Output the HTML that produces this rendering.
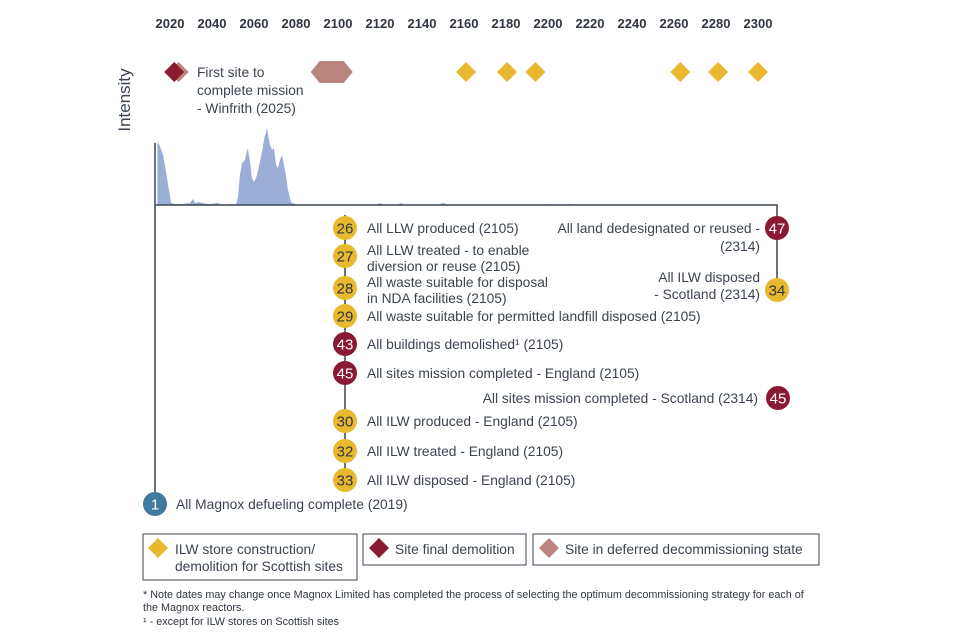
<!DOCTYPE html>
<html><head><meta charset="utf-8"><style>
body{margin:0;background:#fff;}
svg{display:block;font-family:"Liberation Sans",sans-serif;}
.t{font-size:13.8px;fill:#3b4450;}
.yr{font-size:13px;font-weight:bold;fill:#2f3640;}
.n{font-size:15px;fill:#fff;text-anchor:middle;}
.nd{font-size:15px;fill:#2f3640;text-anchor:middle;}
.fn{font-size:10.8px;fill:#2f3640;}
</style></head><body>
<svg id="c" width="960" height="640" viewBox="0 0 960 640">
<g id="axisTop"></g>
<g id="markers"></g>
<text class="t" x="197" y="77">First site to</text>
<text class="t" x="197" y="95">complete mission</text>
<text class="t" x="197" y="113">- Winfrith (2025)</text>
<text class="t" transform="translate(130,100) rotate(-90)" text-anchor="middle" style="font-size:17px">Intensity</text>
<path id="area" fill="#9aaed6"/>
<line x1="155" y1="143" x2="155" y2="505" stroke="#3b4450" stroke-width="1.5"/>
<polyline points="155,205 777,205 777,290" fill="none" stroke="#3b4450" stroke-width="1.5"/>
<line x1="345" y1="215" x2="345" y2="480" stroke="#3b4450" stroke-width="1.5"/>
<g id="events"></g>
<g>
<rect x="143" y="534" width="214" height="46" fill="none" stroke="#3b4450"/>
<polygon points="158,538 168,548 158,558 148,548" fill="#e8b92f"/>
<text class="t" x="175" y="554">ILW store construction/</text>
<text class="t" x="175" y="571">demolition for Scottish sites</text>
<rect x="363" y="534" width="163" height="31" fill="none" stroke="#3b4450"/>
<polygon points="379,538 389,548 379,558 369,548" fill="#8a1a32"/>
<text class="t" x="395" y="554">Site final demolition</text>
<rect x="533" y="534" width="286" height="31" fill="none" stroke="#3b4450"/>
<polygon points="549,538 559,548 549,558 539,548" fill="#b9857c"/>
<text class="t" x="565" y="554">Site in deferred decommissioning state</text>
</g>
<text class="fn" x="143" y="598">* Note dates may change once Magnox Limited has completed the process of selecting the optimum decommissioning strategy for each of</text>
<text class="fn" x="143" y="611">the Magnox reactors.</text>
<text class="fn" x="143" y="625">¹ - except for ILW stores on Scottish sites</text>
</svg>
<script>
const tickYears=[2020,2040,2060,2080,2100,2120,2140,2160,2180,2200,2220,2240,2260,2280,2300];
const areaYears=[2014,2015,2016.7,2018,2019.5,2020.5,2022.4,2025.7,2029.5,2031,2032,2034,2035,2039,2043,2044,2050,2051.4,2052.4,2053.3,2054.3,2055.7,2056.7,2057.1,2058,2059,2060,2061,2062,2063,2064,2065,2065.7,2066.2,2066.7,2067.6,2068.6,2069.5,2070.5,2071.4,2072.4,2073.3,2074.3,2075.2,2076.2,2077.6,2079.5,2082,2118,2120,2122,2128,2130,2132,2147,2150,2153,2198,2200,2202,2208,2210,2212];
const areaValues=[63,60,50,35,15,2,1,1,2,6,2,3,2,1,2,0,1,0,8,30,42,45,55,56,45,27,23,27,35,45,55,68,72,78,70,60,55,57,40,37,45,50,40,30,15,3,1,0,0,2,0,0,2,0,0,2,0,0,1,0,0,1,0];
const ilwYears=[2161,2180.5,2194,2263,2281,2300];
const demolitionYears=[2022];
const deferredYears=[2026];
const hexYears=[2087,2107];
const leftNums=["26","27","28","29","43","45","30","32","33"];
const leftKinds=["y","y","y","y","r","r","y","y","y"];
const leftY=[228,256,288,316,344,373,421,451,480];
const leftText=[["All LLW produced (2105)"],["All LLW treated - to enable","diversion or reuse (2105)"],["All waste suitable for disposal","in NDA facilities (2105)"],["All waste suitable for permitted landfill disposed (2105)"],["All buildings demolished¹ (2105)"],["All sites mission completed - England (2105)"],["All ILW produced - England (2105)"],["All ILW treated - England (2105)"],["All ILW disposed - England (2105)"]];
const X=y=>170+(y-2020)*2.1;
const Y=v=>205-v;
const NS="http://www.w3.org/2000/svg";
function mk(tag,attrs,parent,txt){const e=document.createElementNS(NS,tag);for(const k in attrs)e.setAttribute(k,attrs[k]);if(txt!==undefined)e.textContent=txt;parent.appendChild(e);return e;}
const ax=document.getElementById('axisTop');
tickYears.forEach(y=>{const t=mk('text',{x:X(y),y:28,'text-anchor':'middle',class:'yr'},ax,y);

});
let d='M'+X(areaYears[0])+','+Y(0);
areaYears.forEach((y,i)=>{d+=' L'+X(y).toFixed(1)+','+Y(areaValues[i]);});
d+=' L'+X(areaYears[areaYears.length-1])+','+Y(0)+' Z';
document.getElementById('area').setAttribute('d',d);
const mg=document.getElementById('markers');
function dia(cx,cy,r,fill,name){const p=mk('polygon',{points:`${cx},${cy-r} ${cx+r},${cy} ${cx},${cy+r} ${cx-r},${cy}`,fill:fill},mg);

}
deferredYears.forEach(y=>dia(X(y)-4,72,10,'#b9857c','deferred-marker'));
demolitionYears.forEach(y=>dia(X(y),72,10,'#8a1a32','demolition-marker'));
ilwYears.forEach(y=>dia(X(y),72,10,'#e8b92f','ilw-marker'));
{const a=X(hexYears[0]),b=X(hexYears[1]);const h=mk('polygon',{points:`${a},72 ${a+9},61 ${b-9},61 ${b},72 ${b-9},83 ${a+9},83`,fill:'#b9857c'},mg);

}
const ev=document.getElementById('events');
function circ(cx,cy,num,kind,name){const col={y:'#e8b92f',r:'#8a1a32',b:'#3f7ba0'}[kind];
const c=mk('circle',{cx:cx,cy:cy,r:12,fill:col},ev);


const t=mk('text',{x:cx,y:cy+5.5,class:kind==='y'?'nd':'n'},ev,num);

}
leftY.forEach((cy,i)=>{circ(345,cy,leftNums[i],leftKinds[i],'milestone-'+leftNums[i]);
const lines=leftText[i];const y0=lines.length>1?cy-1:cy+5;
lines.forEach((s,j)=>{const t=mk('text',{x:367,y:y0+j*16,class:'t'},ev,s);

});});
circ(777,228,'47','r','milestone-47');
circ(777,290,'34','y','milestone-34');
circ(778,398,'45','r','milestone-45-scotland');
circ(155,504,'1','b','milestone-1');
[[760,233,'All land dedesignated or reused -'],[760,251,'(2314)'],[760,282,'All ILW disposed'],[760,299,'- Scotland (2314)'],[758,403,'All sites mission completed - Scotland (2314)']].forEach(a=>{const t=mk('text',{x:a[0],y:a[1],class:'t','text-anchor':'end'},ev,a[2]);

});
{const t=mk('text',{x:176,y:509,class:'t'},ev,'All Magnox defueling complete (2019)');

}
</script>
</body></html>
